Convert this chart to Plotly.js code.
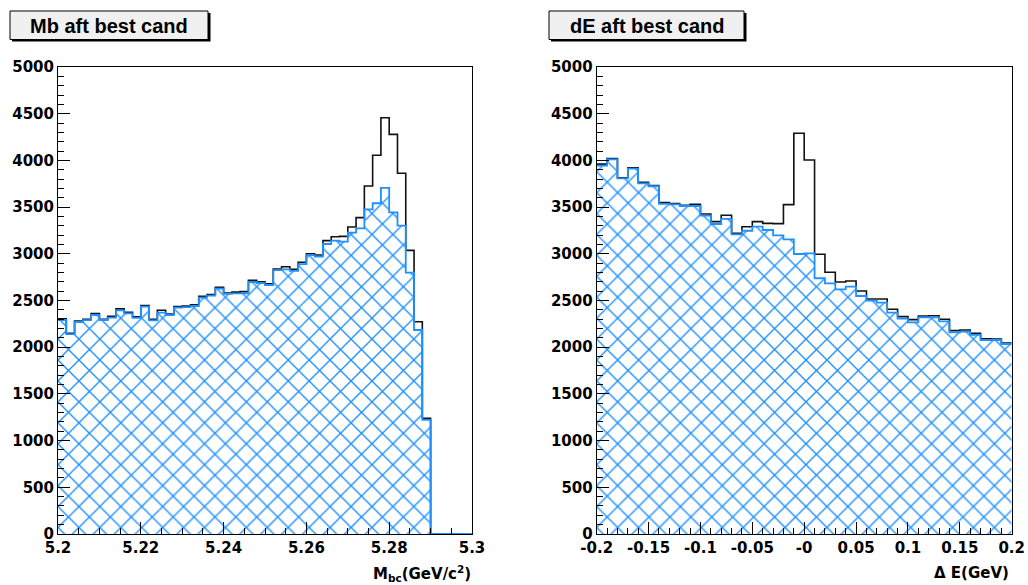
<!DOCTYPE html>
<html>
<head>
<meta charset="utf-8">
<script src="https://cdn.plot.ly/plotly-3.0.1.min.js"></script>
<style>html,body{margin:0;padding:0;background:#fff;}#plot{width:1028px;height:585px;}</style>
</head>
<body>
<div id="plot"></div>
<script>
// ---- data ----
const mbRange = [5.2, 5.3];
const mbBins = 50;
const mbAll = [2305,2150,2280,2300,2360,2300,2330,2410,2375,2325,2445,2300,2395,2355,2435,2440,2455,2545,2565,2640,
               2580,2590,2595,2715,2700,2680,2837,2862,2834,2909,3001,2987,3141,3183,3187,3287,3387,3726,4055,4457,
               4279,3862,3037,2273,1239,0,0,0,0,0];
const mbBest = [2291,2141,2270,2290,2345,2291,2316,2395,2363,2313,2434,2288,2370,2345,2423,2430,2441,2530,2552,2627,
                2570,2577,2577,2698,2687,2665,2826,2833,2818,2890,2986,2970,3105,3141,3130,3227,3273,3476,3541,3705,
                3444,3301,2798,2184,1221,0,0,0,0,0];
const deRange = [-0.2, 0.2];
const deBins = 40;
const deAll = [3960,4020,3815,3920,3765,3730,3550,3538,3520,3530,3426,3344,3412,3219,3290,3344,3326,3323,3526,4290,
               4005,2995,2802,2698,2709,2602,2516,2516,2406,2327,2295,2334,2337,2299,2177,2184,2149,2091,2088,2045];
const deBest = [3945,4012,3808,3912,3755,3723,3535,3530,3512,3512,3408,3319,3373,3209,3247,3290,3255,3198,3155,2998,
                3005,2738,2684,2620,2648,2548,2498,2477,2370,2305,2266,2320,2320,2277,2159,2166,2131,2077,2077,2034];
const mbTickVals = [5.2, 5.22, 5.24, 5.26, 5.28, 5.3];
const mbTickText = ["5.2", "5.22", "5.24", "5.26", "5.28", "5.3"];
const deTickVals = [-0.2, -0.15, -0.1, -0.05, 0, 0.05, 0.1, 0.15, 0.2];
const deTickText = ["-0.2", "-0.15", "-0.1", "-0.05", "-0", "0.05", "0.1", "0.15", "0.2"];
const yTickVals = [0,500,1000,1500,2000,2500,3000,3500,4000,4500,5000];
const titles = ["Mb aft best cand", "dE aft best cand"];

// ---- helpers ----
function edges(range, n) {
  const w = (range[1] - range[0]) / n;
  const e = [];
  for (let i = 0; i <= n; i++) e.push(range[0] + i * w);
  return e;
}
function stepY(v) { return v.concat([v[v.length - 1]]); }

const BLUE = 'rgb(30,144,255)';
const mbE = edges(mbRange, mbBins);
const deE = edges(deRange, deBins);
const pattern = {shape: 'x', fgcolor: BLUE, bgcolor: 'rgba(255,255,255,0)', size: 14.8, solidity: 0.18};

const traces = [
  {x: mbE, y: stepY(mbAll), type: 'scatter', mode: 'lines', line: {shape: 'hv', color: '#111', width: 1.6},
   xaxis: 'x', yaxis: 'y', hoverinfo: 'skip'},
  {x: mbE, y: stepY(mbBest), type: 'scatter', mode: 'lines', line: {shape: 'hv', color: BLUE, width: 1.8},
   fill: 'tozeroy', fillcolor: 'rgba(0,0,0,0)', fillpattern: pattern,
   xaxis: 'x', yaxis: 'y', hoverinfo: 'skip'},
  {x: deE, y: stepY(deAll), type: 'scatter', mode: 'lines', line: {shape: 'hv', color: '#111', width: 1.6},
   xaxis: 'x2', yaxis: 'y2', hoverinfo: 'skip'},
  {x: deE, y: stepY(deBest), type: 'scatter', mode: 'lines', line: {shape: 'hv', color: BLUE, width: 1.8},
   fill: 'tozeroy', fillcolor: 'rgba(0,0,0,0)', fillpattern: pattern,
   xaxis: 'x2', yaxis: 'y2', hoverinfo: 'skip'}
];

const W = 1028, H = 585;
const px = v => v / W;
const py = v => 1 - v / H;
const tickFont = {family: 'DejaVu Sans', size: 15, color: '#000', weight: 'bold'};

function xAxis(domain, range, vals, text, minorDtick, anchor) {
  return {domain: domain, range: range, anchor: anchor, tickmode: 'array', tickvals: vals, ticktext: text,
    ticks: 'inside', ticklen: 12, tickwidth: 1, tickcolor: '#000', showline: true, linecolor: '#000', linewidth: 1,
    mirror: true, showgrid: false, zeroline: false, tickfont: tickFont, automargin: false,
    minor: {dtick: minorDtick, tick0: range[0], ticks: 'inside', ticklen: 6, tickcolor: '#000', tickwidth: 1, showgrid: false}};
}
function yAxis(anchor) {
  return {domain: [py(534), py(67)], range: [0, 5000], anchor: anchor, tickmode: 'array', tickvals: yTickVals,
    ticks: 'inside', ticklen: 12, tickwidth: 1, tickcolor: '#000', showline: true, linecolor: '#000', linewidth: 1,
    mirror: true, showgrid: false, zeroline: false, tickfont: tickFont, automargin: false, ticklabelstandoff: 0,
    minor: {dtick: 100, tick0: 0, ticks: 'inside', ticklen: 6, tickcolor: '#000', tickwidth: 1, showgrid: false}};
}

const boxes = [[10, 208], [549, 744]];
const shapes = [];
const annotations = [];
boxes.forEach((b, i) => {
  shapes.push({type: 'rect', xref: 'paper', yref: 'paper', x0: px(b[0] + 2), x1: px(b[1] + 2.5), y0: py(41.5), y1: py(13),
    fillcolor: '#000', line: {width: 0}});
  shapes.push({type: 'rect', xref: 'paper', yref: 'paper', x0: px(b[0]), x1: px(b[1]), y0: py(39.5), y1: py(11),
    fillcolor: '#f0f0f0', line: {color: '#000', width: 1}});
  annotations.push({xref: 'paper', yref: 'paper', x: px((b[0] + b[1]) / 2), y: py(26), xanchor: 'center', yanchor: 'middle',
    text: titles[i], showarrow: false, font: {family: 'Liberation Sans', size: 20, color: '#000', weight: 'bold'}});
});
annotations.push({xref: 'paper', yref: 'paper', x: px(473), y: py(573), xanchor: 'right', yanchor: 'middle',
  text: 'M<sub>bc</sub>(GeV/c<sup>2</sup>)', showarrow: false, font: {family: 'DejaVu Sans', size: 15, color: '#000', weight: 'bold'}});
annotations.push({xref: 'paper', yref: 'paper', x: px(1011), y: py(573), xanchor: 'right', yanchor: 'middle',
  text: '\u0394 E(GeV)', showarrow: false, font: {family: 'DejaVu Sans', size: 15, color: '#000', weight: 'bold'}});

const layout = {
  width: W, height: H, margin: {l: 0, r: 0, t: 0, b: 0}, showlegend: false,
  paper_bgcolor: '#fff', plot_bgcolor: '#fff',
  xaxis: xAxis([px(58), px(472)], mbRange, mbTickVals, mbTickText, 0.005, 'y'),
  yaxis: yAxis('x'),
  xaxis2: xAxis([px(596.7), px(1011.7)], deRange, deTickVals, deTickText, 0.01, 'y2'),
  yaxis2: yAxis('x2'),
  shapes: shapes, annotations: annotations
};

Plotly.newPlot('plot', traces, layout, {staticPlot: true, displayModeBar: false});
</script>
</body>
</html>
